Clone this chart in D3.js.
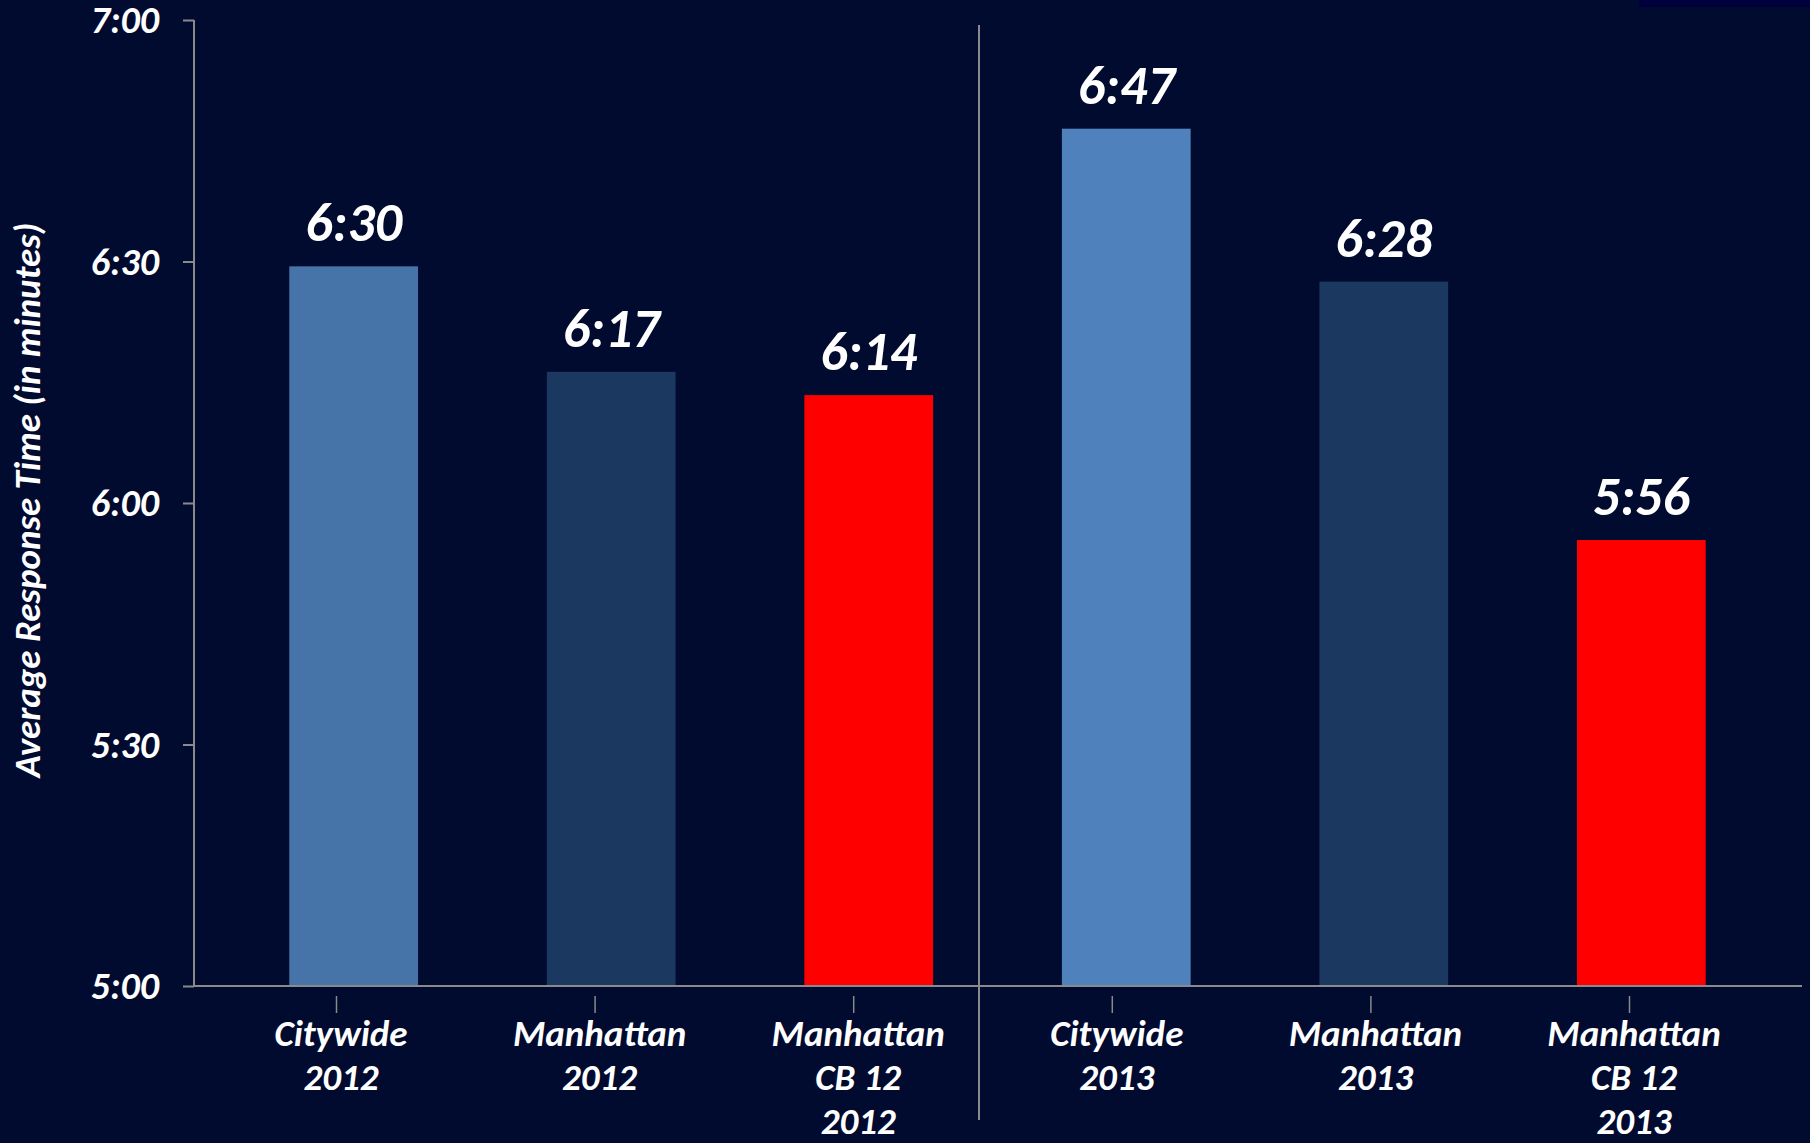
<!DOCTYPE html>
<html>
<head>
<meta charset="utf-8">
<script src="https://cdn.jsdelivr.net/npm/d3@7"></script>
<style>
  body { margin: 0; background: #010a2f; overflow: hidden; }
  svg { display: block; }
  text { font-family: Carlito, Calibri, Lato, sans-serif; font-style: italic; font-weight: bold; fill: #fff; }
</style>
</head>
<body>
<svg></svg>
<script>
// categories and values (seconds)
var categories = [
  ["Citywide", "2012"],
  ["Manhattan", "2012"],
  ["Manhattan", "CB 12", "2012"],
  ["Citywide", "2013"],
  ["Manhattan", "2013"],
  ["Manhattan", "CB 12", "2013"]
];
var values = [389.4, 376.3, 373.4, 406.5, 387.5, 355.4];
var valueLabels = ["6:30", "6:17", "6:14", "6:47", "6:28", "5:56"];
var colors = ["#4674a8", "#1b3960", "#ff0000", "#4f81bd", "#1b3960", "#ff0000"];
var yTicks = [300, 330, 360, 390, 420];

var svg = d3.select("svg"),
    width = 1810,
    height = 1143;

svg.attr("width", width).attr("height", height);

svg.append("rect").attr("width", width).attr("height", height).attr("fill", "#010a2f");
// little dark strip at top right
svg.append("rect").attr("x", 1639).attr("y", 0).attr("width", 171).attr("height", 7).attr("fill", "#00003c");

var ids = categories.map((c, i) => i);

var x = d3.scaleBand()
    .domain(ids)
    .range([194, 1801])
    .paddingInner(0.5)
    .paddingOuter(0.37);

// the category ticks sit a little left of the bars
var xTick = d3.scalePoint()
    .domain(ids)
    .range([336, 1629]);

var y = d3.scaleLinear()
    .domain([300, 420])
    .range([986, 20]);

function fmt(s) {
  var m = Math.floor(s / 60), r = Math.round(s % 60);
  return m + ":" + (r < 10 ? "0" : "") + r;
}

// bars
svg.selectAll("rect.bar")
    .data(values)
    .join("rect")
    .attr("class", "bar")
    .attr("x", (d, i) => x(i))
    .attr("y", d => y(d))
    .attr("width", x.bandwidth())
    .attr("height", d => y(300) - y(d))
    .attr("fill", (d, i) => colors[i]);

// value labels
svg.selectAll("text.val")
    .data(values)
    .join("text")
    .attr("class", "val")
    .attr("x", (d, i) => x(i) + x.bandwidth() / 2)
    .attr("y", d => y(d) - 25)
    .attr("text-anchor", "middle")
    .style("font-size", "54px")
    .text((d, i) => valueLabels[i]);

// y axis
var yAxis = svg.append("g")
    .attr("transform", "translate(194,0)")
    .call(d3.axisLeft(y).tickValues(yTicks).tickSize(11).tickPadding(24).tickFormat(fmt));
yAxis.select(".domain").remove();
yAxis.append("line").attr("x1", 0).attr("x2", 0).attr("y1", y(420)).attr("y2", y(300))
    .attr("stroke", "#8a8a8a").attr("stroke-width", 2);
yAxis.selectAll(".tick line").attr("stroke", "#8a8a8a").attr("stroke-width", 2);
yAxis.selectAll(".tick text").style("font-size", "38px").attr("dy", "0.33em").attr("fill", "#fff");

// x axis line
svg.append("line")
    .attr("x1", 194).attr("x2", 1802)
    .attr("y1", y(300)).attr("y2", y(300))
    .attr("stroke", "#8a8a8a").attr("stroke-width", 2);

// x ticks and category labels
var xAxis = svg.append("g")
    .attr("transform", "translate(0,996)")
    .call(d3.axisBottom(xTick).tickSize(17).tickFormat(""));
xAxis.select(".domain").remove();
xAxis.selectAll(".tick line").attr("stroke", "#8a8a8a").attr("stroke-width", 1.5);

var lab = svg.selectAll("text.cat")
    .data(categories)
    .join("text")
    .attr("class", "cat")
    .attr("text-anchor", "middle")
    .style("font-size", "37px")
    .attr("transform", (d, i) => "translate(" + (xTick(i) + 5) + ",1046)");
lab.selectAll("tspan")
    .data(d => d)
    .join("tspan")
    .attr("x", 0)
    .attr("y", (d, j) => j * 44)
    .text(d => d);

// divider between years
svg.append("line")
    .attr("x1", 979).attr("x2", 979)
    .attr("y1", 25).attr("y2", 1120)
    .attr("stroke", "#8a8a8a").attr("stroke-width", 2);

// axis title
svg.append("text")
    .attr("transform", "translate(40,500) rotate(-90)")
    .attr("text-anchor", "middle")
    .style("font-size", "37px")
    .text("Average Response Time (in minutes)");
</script>
</body>
</html>
